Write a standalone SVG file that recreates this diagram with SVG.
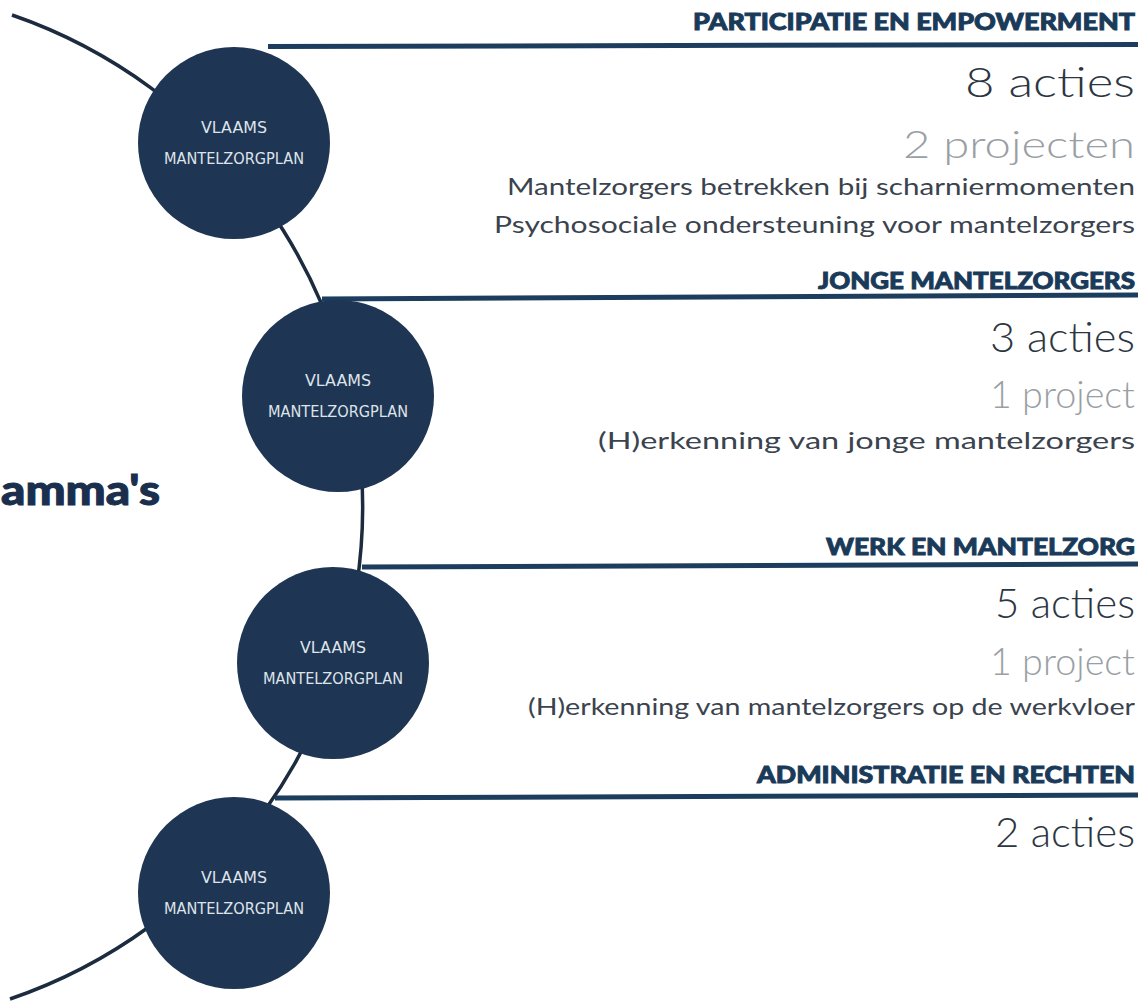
<svg xmlns="http://www.w3.org/2000/svg" width="1142" height="1001" viewBox="0 0 1142 1001">
<style>
.bg{fill:#ffffff}
.arc{fill:none;stroke:#1c2b3e;stroke-width:3.5}
.bar{stroke:#1c3d5e;stroke-width:5;stroke-linecap:butt}
.node{fill:#1e3553}
.ntxt{font-family:"DejaVu Sans Condensed","DejaVu Sans",sans-serif;font-size:16px;fill:#dfe4ea;text-anchor:middle}
.hd{font-family:Lato,"Open Sans",sans-serif;font-weight:900;font-size:23px;fill:#1a3a5a;stroke:#1a3a5a;stroke-width:0.9;text-anchor:end}
.num{font-family:Lato,"Open Sans",sans-serif;font-weight:300;font-size:42px;fill:#2c3642;text-anchor:end}
.proj{font-family:Lato,"Open Sans",sans-serif;font-weight:300;font-size:38px;fill:#9a9fa5;text-anchor:end}
.desc{font-family:Lato,"Open Sans",sans-serif;font-weight:400;font-size:24px;fill:#3a434e;text-anchor:end}
.title{font-family:Lato,"Open Sans",sans-serif;font-weight:900;font-size:42px;fill:#1a2f4d;stroke:#1a2f4d;stroke-width:1}
</style>
<rect class="bg" x="0" y="0" width="1142" height="1001"/>
<g id="connectors">
<path class="arc" d="M 12 15 A 520 520 0 0 1 10 999"/>
<line class="bar" x1="268" y1="46.5" x2="1138" y2="44.5"/>
<line class="bar" x1="322" y1="299" x2="1138" y2="295"/>
<line class="bar" x1="362" y1="567" x2="1138" y2="564"/>
<line class="bar" x1="275" y1="798" x2="1138" y2="795"/>
</g>
<g id="node1">
<circle class="node" cx="234" cy="143" r="96"/>
<text class="ntxt" x="234" y="133" textLength="66" lengthAdjust="spacingAndGlyphs">VLAAMS</text>
<text class="ntxt" x="234" y="164" textLength="140" lengthAdjust="spacingAndGlyphs">MANTELZORGPLAN</text>
</g>
<g id="node2">
<circle class="node" cx="338" cy="396" r="96"/>
<text class="ntxt" x="338" y="386" textLength="66" lengthAdjust="spacingAndGlyphs">VLAAMS</text>
<text class="ntxt" x="338" y="417" textLength="140" lengthAdjust="spacingAndGlyphs">MANTELZORGPLAN</text>
</g>
<g id="node3">
<circle class="node" cx="333" cy="663" r="96"/>
<text class="ntxt" x="333" y="653" textLength="66" lengthAdjust="spacingAndGlyphs">VLAAMS</text>
<text class="ntxt" x="333" y="684" textLength="140" lengthAdjust="spacingAndGlyphs">MANTELZORGPLAN</text>
</g>
<g id="node4">
<circle class="node" cx="234" cy="893" r="96"/>
<text class="ntxt" x="234" y="883" textLength="66" lengthAdjust="spacingAndGlyphs">VLAAMS</text>
<text class="ntxt" x="234" y="914" textLength="140" lengthAdjust="spacingAndGlyphs">MANTELZORGPLAN</text>
</g>
<g id="title">
<text class="title" x="1" y="505" textLength="159" lengthAdjust="spacingAndGlyphs">amma's</text>
</g>
<g id="section1">
<text class="hd" x="1135" y="30" textLength="442" lengthAdjust="spacingAndGlyphs">PARTICIPATIE EN EMPOWERMENT</text>
<text class="num" x="1135" y="97" textLength="170" lengthAdjust="spacingAndGlyphs">8 acties</text>
<text class="proj" x="1135" y="158" textLength="232" lengthAdjust="spacingAndGlyphs">2 projecten</text>
<text class="desc" x="1135" y="195" textLength="628" lengthAdjust="spacingAndGlyphs">Mantelzorgers betrekken bij scharniermomenten</text>
<text class="desc" x="1135" y="233" textLength="641" lengthAdjust="spacingAndGlyphs">Psychosociale ondersteuning voor mantelzorgers</text>
</g>
<g id="section2">
<text class="hd" x="1135" y="289" textLength="317" lengthAdjust="spacingAndGlyphs">JONGE MANTELZORGERS</text>
<text class="num" x="1135" y="352" textLength="145" lengthAdjust="spacingAndGlyphs">3 acties</text>
<text class="proj" x="1135" y="408" textLength="145" lengthAdjust="spacingAndGlyphs">1 project</text>
<text class="desc" x="1135" y="449" textLength="537" lengthAdjust="spacingAndGlyphs">(H)erkenning van  jonge mantelzorgers</text>
</g>
<g id="section3">
<text class="hd" x="1135" y="555" textLength="309" lengthAdjust="spacingAndGlyphs">WERK EN MANTELZORG</text>
<text class="num" x="1135" y="618" textLength="140" lengthAdjust="spacingAndGlyphs">5 acties</text>
<text class="proj" x="1135" y="675" textLength="145" lengthAdjust="spacingAndGlyphs">1 project</text>
<text class="desc" x="1135" y="715" textLength="607" lengthAdjust="spacingAndGlyphs">(H)erkenning van mantelzorgers op de werkvloer</text>
</g>
<g id="section4">
<text class="hd" x="1135" y="783" textLength="378" lengthAdjust="spacingAndGlyphs">ADMINISTRATIE EN RECHTEN</text>
<text class="num" x="1135" y="847" textLength="140" lengthAdjust="spacingAndGlyphs">2 acties</text>
</g>
</svg>
